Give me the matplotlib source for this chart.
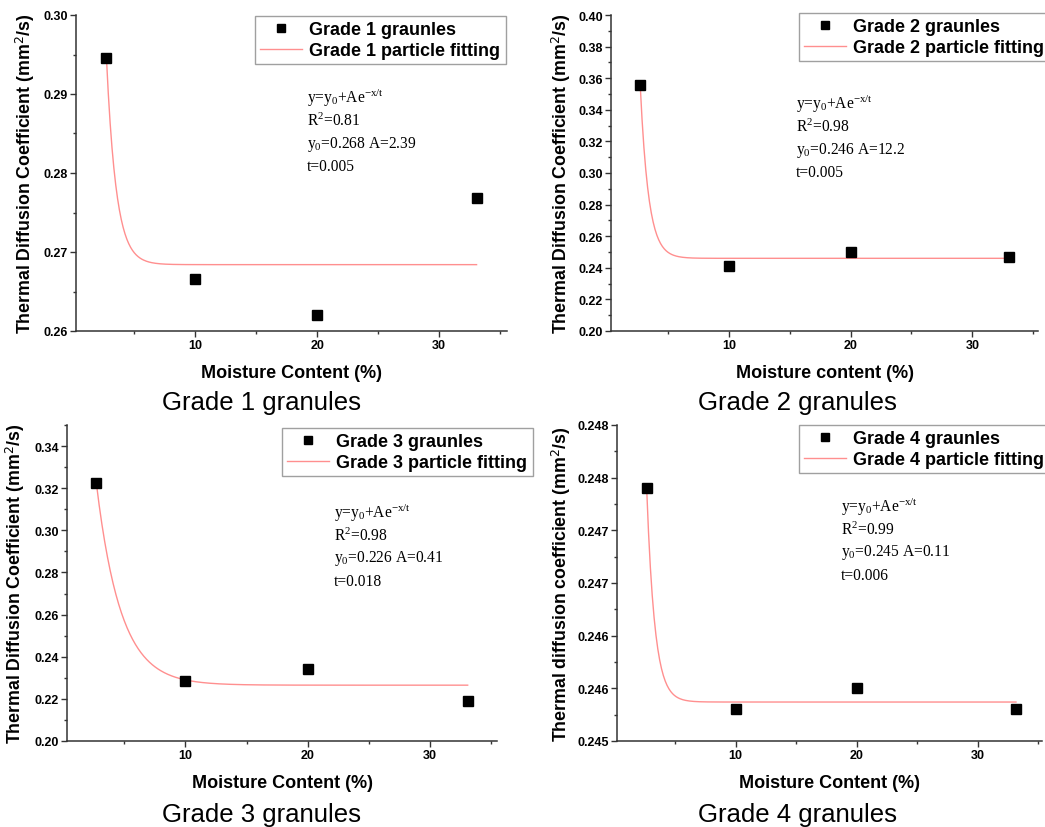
import numpy as np
import matplotlib
matplotlib.use('Agg')
from matplotlib import pyplot as plt
from matplotlib.ticker import MultipleLocator, FixedLocator, FixedFormatter
# --

plt.rcParams['font.family'] = ['Liberation Sans', 'DejaVu Sans']
plt.rcParams['mathtext.fontset'] = 'custom'
plt.rcParams['mathtext.rm'] = 'Liberation Serif'
plt.rcParams['mathtext.it'] = 'Liberation Serif:italic'

# moisture content (%) of the four samples in each grade
moisture_1 = [2.7, 10, 20, 33.1]
moisture_2 = [2.7, 10, 20, 33.0]
moisture_3 = [2.7, 10, 20, 33.1]
moisture_4 = [2.65, 10, 20, 33.15]

# measured thermal diffusion coefficient (mm2/s)
diffusion_1 = [0.2946, 0.2666, 0.2620, 0.2768]
diffusion_2 = [0.3559, 0.2411, 0.2502, 0.2466]
diffusion_3 = [0.3225, 0.2283, 0.2343, 0.2189]
diffusion_4 = [0.24740, 0.24530, 0.24550, 0.24530]

# exponential fit: plateau, decay length (%)
fit_plateau = [0.2684, 0.2460, 0.2265, 0.24537]
fit_decay = [0.8, 0.68, 2.0, 0.66]

# fit text shown in each panel
fit_r2 = ['0.81', '0.98', '0.98', '0.99']
fit_y0 = ['0.268', '0.246', '0.226', '0.245']
fit_A = ['2.39', '12.2', '0.41', '0.11']
fit_t = ['0.005', '0.005', '0.018', '0.006']

x_labels = ['Moisture Content (%)', 'Moisture content (%)',
            'Moisture Content (%)', 'Moisture Content (%)']
y_labels = ['Thermal Diffusion Coefficient (mm$^{\\mathsf{2}}$/s)',
            'Thermal Diffusion Coefficient (mm$^{\\mathsf{2}}$/s)',
            'Thermal Diffusion Coefficient (mm$^{\\mathsf{2}}$/s)',
            'Thermal diffusion coefficient (mm$^{\\mathsf{2}}$/s)']
captions = ['Grade 1 granules', 'Grade 2 granules', 'Grade 3 granules', 'Grade 4 granules']

ylims = [(0.26, 0.30), (0.20, 0.40), (0.20, 0.35), (0.245, 0.248)]
xlims = [(0.2, 35.6), (0.3, 35.4), (0.3, 35.5), (0.2, 35.3)]
y_major = [0.01, 0.02, 0.02, 0.0005]
grade4_ticks = [0.245, 0.2455, 0.246, 0.2465, 0.247, 0.2475, 0.248]
grade4_tick_labels = ['0.245', '0.246', '0.246', '0.247', '0.247', '0.248', '0.248']
# --

W, H = 1045, 828
fig = plt.figure(figsize=(W / 100, H / 100), dpi=100)

# axes boxes in pixels: left, right, top, bottom
boxes = [(76, 507, 16, 332), (611, 1038, 16, 332),
         (67, 497, 426, 742), (617, 1042, 426, 742)]
legend_pos = [(255, 17), (799, 14), (282, 429), (799, 426)]
text_pos = [(307, 98), (796, 104), (334, 513), (841, 507)]
ylabel_x = [37, 573, 27, 573]
caption_pos = [(262, 403), (797, 403), (262, 815), (797, 815)]

moistures = [moisture_1, moisture_2, moisture_3, moisture_4]
diffusions = [diffusion_1, diffusion_2, diffusion_3, diffusion_4]

for i in range(4):
  l, r, t, b = boxes[i]
  ax = fig.add_axes([l / W, 1 - b / H, (r - l) / W, (b - t) / H])
  x = np.array(moistures[i])
  y = np.array(diffusions[i])

  # fitted curve y = y0 + A*exp(-(x - x0)/tau), anchored on the first point
  xf = np.linspace(x[0], x[-1], 400)
  yf = fit_plateau[i] + (y[0] - fit_plateau[i]) * np.exp(-(xf - x[0]) / fit_decay[i])

  ax.plot(xf, yf, color='#ff8f8f', lw=1.0, zorder=2,
          label='Grade {} particle fitting'.format(i + 1))
  ax.plot(x, y, 's', color='black', ms=6.5, zorder=3,
          label='Grade {} graunles'.format(i + 1))

  ax.set_xlim(*xlims[i])
  ax.set_ylim(*ylims[i])
  ax.xaxis.set_major_locator(FixedLocator([10, 20, 30]))
  ax.xaxis.set_minor_locator(FixedLocator([5, 15, 25, 35]))
  if i == 3:
    ax.yaxis.set_major_locator(FixedLocator(grade4_ticks))
    ax.yaxis.set_major_formatter(FixedFormatter(grade4_tick_labels))
    ax.yaxis.set_minor_locator(MultipleLocator(0.00025))
  else:
    ax.yaxis.set_major_locator(MultipleLocator(y_major[i]))
    ax.yaxis.set_minor_locator(MultipleLocator(y_major[i] / 2))
    ax.yaxis.set_major_formatter(lambda v, p: '{:.2f}'.format(v))

  for s in ['top', 'right']:
    ax.spines[s].set_visible(False)
  for s in ['left', 'bottom']:
    ax.spines[s].set_linewidth(1.1)
    ax.spines[s].set_color('#333333')
  ax.tick_params(which='major', direction='out', length=4, width=1, color='#333333',
                 labelsize=9, pad=2)
  ax.tick_params(which='minor', direction='out', length=2.5, width=1, color='#333333')
  for lab in ax.get_xticklabels() + ax.get_yticklabels():
    lab.set_fontweight('bold')

  ax.set_xlabel(x_labels[i], fontsize=13, fontweight='bold', labelpad=9)
  ax.set_ylabel(y_labels[i], fontsize=12.8, fontweight='bold')
  ax.yaxis.set_label_coords((ylabel_x[i] - l) / (r - l), 0.5)

  h, lb = ax.get_legend_handles_labels()
  lx, ly = legend_pos[i]
  leg = fig.legend(h[::-1], lb[::-1], loc='upper left',
                   bbox_to_anchor=(lx / W, 1 - ly / H), frameon=True, fancybox=False,
                   edgecolor='#888888', prop={'weight': 'bold', 'size': 13},
                   handlelength=2.3, handletextpad=0.4, borderpad=0.3,
                   labelspacing=0.2, borderaxespad=0, markerscale=0.85)
  leg.get_frame().set_linewidth(1.0)

  tx, ty = text_pos[i]
  lines = ['y=y$_0$+Ae$^{\\mathrm{-x/t}}$',
           'R$^2$=' + fit_r2[i],
           'y$_0$=' + fit_y0[i] + ' A=' + fit_A[i],
           't=' + fit_t[i]]
  for k, s in enumerate(lines):
    fig.text(tx / W, 1 - (ty + 23 * k) / H, s, fontsize=11.2,
             family='Liberation Serif', va='center', ha='left')

  cx, cy = caption_pos[i]
  fig.text(cx / W, 1 - cy / H, captions[i], fontsize=18.5, ha='center', va='center')

plt.savefig('out.png', dpi=100)
plt.close('all')
